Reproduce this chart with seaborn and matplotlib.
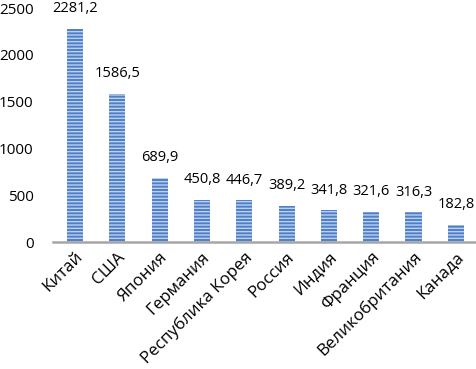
import pandas as pd
import matplotlib.pyplot as plt
import seaborn as sns

countries = ['Китай', 'США', 'Япония', 'Германия', 'Республика Корея',
             'Россия', 'Индия', 'Франция', 'Великобритания', 'Канада']
values = [2281.2, 1586.5, 689.9, 450.8, 446.7, 389.2, 341.8, 321.6, 316.3, 182.8]
labels = ['2281,2', '1586,5', '689,9', '450,8', '446,7',
          '389,2', '341,8', '321,6', '316,3', '182,8']

df = pd.DataFrame({'country': countries, 'value': values})

sns.set_style('white')
plt.rcParams['font.family'] = ['Open Sans', 'DejaVu Sans']
plt.rcParams['hatch.linewidth'] = 1.0

fig = plt.figure(figsize=(4.77, 3.69), dpi=100)
ax = fig.add_axes([0.111, 0.344, 0.889, 0.634])

sns.barplot(data=df, x='country', y='value', color='#4F7FC8', width=0.38,
            saturation=1, ax=ax)
for p in ax.patches:
    p.set_hatch('-----')
    p.set_edgecolor('#BCD0EE')
    p.set_linewidth(0)

for i, (v, t) in enumerate(zip(values, labels)):
    ax.annotate(t, (i, v), xytext=(0, 9), textcoords='offset points',
                ha='center', va='bottom', fontsize=10.5, color='black')

ax.set_xlim(-0.52, 9.5)
ax.set_ylim(0, 2500)
ax.set_yticks([0, 500, 1000, 1500, 2000, 2500])
ax.set_xlabel('')
ax.set_ylabel('')
for s in ['top', 'right', 'left']:
    ax.spines[s].set_visible(False)
ax.spines['bottom'].set_color('#A6A6A6')
ax.spines['bottom'].set_linewidth(1.8)
ax.tick_params(axis='both', length=0, colors='black')
ax.tick_params(axis='y', pad=14, labelsize=11)
ax.tick_params(axis='x', pad=5, labelsize=12.2)
plt.setp(ax.get_xticklabels(), rotation=45, ha='right', rotation_mode='anchor')

fig.savefig('out.png', dpi=100)
plt.close(fig)
